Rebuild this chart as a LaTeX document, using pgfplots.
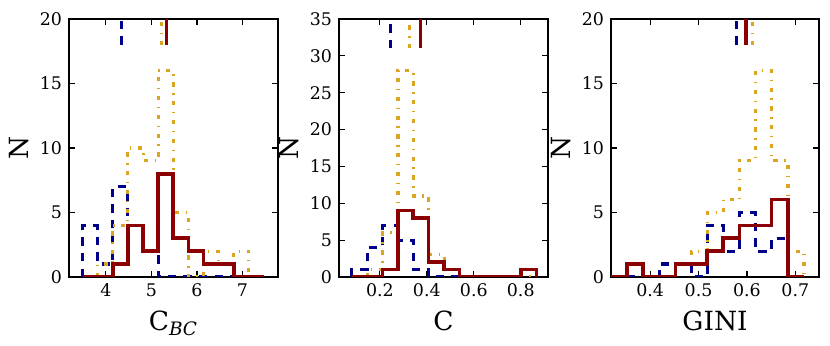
\documentclass[border=0pt]{standalone}
\usepackage{fontspec}
\setmainfont{DejaVu Serif}
\usepackage{pgfplots}
\pgfplotsset{compat=1.18}

\definecolor{cblue}{RGB}{0,0,139}
\definecolor{cgold}{RGB}{218,165,32}
\definecolor{cred}{RGB}{139,0,0}

\pgfplotsset{
  histpanel/.style={
    scale only axis, width=104.5pt, height=129pt, anchor=south west,
    ymin=0, axis line style={line width=0.75pt},
    tick style={black, line width=0.6pt}, major tick length=3pt,
    tick label style={font=\fontsize{8.7}{10}\selectfont},
    /pgf/number format/assume math mode=true,
    label style={font=\fontsize{13.2}{15}\selectfont},
    ylabel={N}, ylabel shift=-1.5pt,
    every axis plot/.append style={line width=1.6pt, line join=miter},
  },
  sblue/.style={cblue, dash pattern=on 4.2pt off 3.6pt, const plot mark left},
  sgold/.style={cgold, dash pattern=on 2.1pt off 3.3pt on 0.7pt off 3.3pt, const plot mark left},
  sred/.style={cred, line width=1.8pt, const plot mark left},
}

\begin{document}
\begin{tikzpicture}
\useasboundingbox (0,0) rectangle (415pt,173pt);

% panel 1
\begin{axis}[histpanel, at={(34.5pt,34.5pt)},
  xmin=3.19, xmax=7.78, ymax=20, xtick={4,5,6,7}, ytick={0,5,10,15,20},
  xlabel={C\textsubscript{\itshape BC}}]
\addplot[sblue] coordinates {(3.49,0) (3.49,4) (3.82,1) (4.15,7) (4.48,4) (4.82,2) (5.15,0) (6.81,0)};
\addplot[sgold] coordinates {(3.82,0) (3.82,1) (4.15,4) (4.48,10) (4.82,9) (5.15,16) (5.48,5) (5.81,0) (6.14,2) (6.47,1) (6.81,2) (7.14,0)};
\addplot[sred] coordinates {(3.49,0) (4.15,1) (4.48,4) (4.82,2) (5.15,8) (5.48,3) (5.81,2) (6.14,1) (6.81,0) (7.47,0)};
\addplot[cblue, dash pattern=on 4.2pt off 3.6pt] coordinates {(4.35,18) (4.35,20)};
\addplot[cgold, dash pattern=on 2.1pt off 3.3pt on 0.7pt off 3.3pt] coordinates {(5.23,18) (5.23,20)};
\addplot[cred, line width=1.8pt] coordinates {(5.33,18) (5.33,20)};
\end{axis}

% panel 2
\begin{axis}[histpanel, at={(169.5pt,34.5pt)},
  xmin=0.026, xmax=0.916, ymax=35, xtick={0.2,0.4,0.6,0.8}, ytick={0,5,...,35},
  xlabel={C}]
\addplot[sblue] coordinates {(0.080,0) (0.080,1) (0.146,4) (0.211,7) (0.277,5) (0.342,1) (0.408,0) (0.539,0)};
\addplot[sgold] coordinates {(0.146,0) (0.146,1) (0.211,6) (0.277,28) (0.342,11) (0.408,3) (0.474,1) (0.539,0) (0.867,0)};
\addplot[sred] coordinates {(0.080,0) (0.211,1) (0.277,9) (0.342,8) (0.408,2) (0.474,1) (0.539,0) (0.802,1) (0.867,0)};
\addplot[cblue, dash pattern=on 4.2pt off 3.6pt] coordinates {(0.245,31) (0.245,35)};
\addplot[cgold, dash pattern=on 2.1pt off 3.3pt on 0.7pt off 3.3pt] coordinates {(0.325,31) (0.325,35)};
\addplot[cred, line width=1.8pt] coordinates {(0.373,31) (0.373,35)};
\end{axis}

% panel 3
\begin{axis}[histpanel, at={(305.5pt,34.5pt)}, width=104pt,
  xmin=0.319, xmax=0.749, ymax=20, xtick={0.4,0.5,0.6,0.7}, ytick={0,5,10,15,20},
  xlabel={GINI}]
\addplot[sblue] coordinates {(0.352,0) (0.419,1) (0.485,0) (0.518,4) (0.551,2) (0.585,5) (0.618,2) (0.651,3) (0.685,0)};
\addplot[sgold] coordinates {(0.452,0) (0.452,1) (0.485,2) (0.518,5) (0.551,6) (0.585,9) (0.618,16) (0.651,9) (0.685,2) (0.718,0)};
\addplot[sred] coordinates {(0.319,0) (0.352,1) (0.385,0) (0.452,1) (0.518,2) (0.551,3) (0.585,4) (0.651,6) (0.685,0) (0.718,0)};
\addplot[cblue, dash pattern=on 4.2pt off 3.6pt] coordinates {(0.579,18) (0.579,20)};
\addplot[cgold, dash pattern=on 2.1pt off 3.3pt on 0.7pt off 3.3pt] coordinates {(0.612,18) (0.612,20)};
\addplot[cred, line width=1.8pt] coordinates {(0.598,18) (0.598,20)};
\end{axis}
\end{tikzpicture}
\end{document}
